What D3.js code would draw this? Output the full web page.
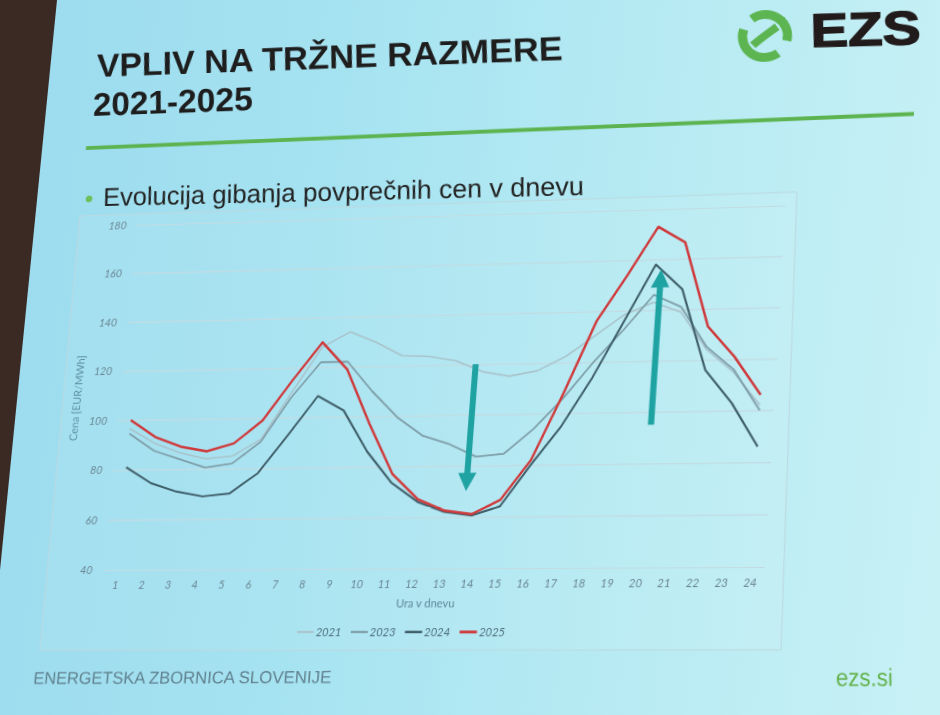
<!DOCTYPE html>
<html><head><meta charset="utf-8">
<script src="https://cdn.jsdelivr.net/npm/d3@7"></script>
<style>
html,body{margin:0;padding:0;width:940px;height:715px;overflow:hidden;}
body{background:linear-gradient(96deg,#9bdbee 0%,#a6e3f1 35%,#b6eaf3 65%,#c8f1f5 100%);}
#bg{position:absolute;left:0;top:0;}
#slide{position:absolute;left:0;top:0;transform-origin:0 0;overflow:visible;}
</style></head><body>
<svg id="bg" width="940" height="715"></svg>
<svg id="slide" width="940" height="715"></svg>
<script>
// ---------------- data ----------------
const hourLabels = [1,2,3,4,5,6,7,8,9,10,11,12,13,14,15,16,17,18,19,20,21,22,23,24];
const yTicks = [40,60,80,100,120,140,160,180];
const years = ["2021","2023","2024","2025"];
const s2021 = [96.5,90.5,86.5,84,85,91.5,110,128,134,129.5,124,123.5,121.5,117,115,117,122.5,130.5,138.5,143,139,124,115,102];
const s2023 = [94.5,87.5,84,80.5,82,90.5,108,122,122,110,99.5,92,88.5,83.5,84.5,94,106,120,132.5,146,141,125,116,100];
const s2024 = [81,74.5,71,69,70,78,93,108.5,102.5,86,73.5,66,62,60.5,64,80,95,114,136,158,148,116,103,86];
const s2025 = [100,93,89,87,90,99,115,130,119,97,77,67,62.5,61,66.5,82,108,136,154,173,166.5,133,121,106];
const seriesValues = [s2021, s2023, s2024, s2025];
// annotation arrows (hour position, start value, tip value)
const arrowHours = [13.73, 20.2];
const arrowFrom = [120, 95];
const arrowTo = [70, 156];

// ---------------- styles ----------------
const lineColors = {"2021":"#a9c3cb","2023":"#7f9fa9","2024":"#3e5e69","2025":"#cf3a3c"};
const lineWidths = {"2021":1.6,"2023":1.8,"2024":2,"2025":2.4};
const gridColor = "#c2dbe2";
const tickColor = "#6b8794";

// ---------------- perspective (photo of a slide) ----------------
const FL=120, FR=775, FT=216, FB=569;
const srcPts = [[FL,FT],[FR,FT],[FR,FB],[FL,FB]];
const dstPts = [[137,225],[786,205.5],[765,567],[103,570]];

function solve(A,b){
  const n=b.length; const M=A.map((r,i)=>r.concat([b[i]]));
  for(let c=0;c<n;c++){
    let p=c; for(let r=c+1;r<n;r++) if(Math.abs(M[r][c])>Math.abs(M[p][c])) p=r;
    [M[c],M[p]]=[M[p],M[c]];
    for(let r=0;r<n;r++){ if(r===c) continue; const f=M[r][c]/M[c][c]; for(let k=c;k<=n;k++) M[r][k]-=f*M[c][k]; }
  }
  return M.map((r,i)=>r[n]/r[i]);
}
function homography(src,dst){
  const A=[],b=[];
  for(let i=0;i<4;i++){
    const [x,yy]=src[i],[u,v]=dst[i];
    A.push([x,yy,1,0,0,0,-x*u,-yy*u]); b.push(u);
    A.push([0,0,0,x,yy,1,-x*v,-yy*v]); b.push(v);
  }
  const h=solve(A,b);
  return [[h[0],h[1],h[2]],[h[3],h[4],h[5]],[h[6],h[7],1]];
}
function inv3(m){
  const [a,b,c]=m[0],[d,e,f]=m[1],[g,h,i]=m[2];
  const A=e*i-f*h, B=-(d*i-f*g), C=d*h-e*g;
  const det=a*A+b*B+c*C;
  return [[A/det,-(b*i-c*h)/det,(b*f-c*e)/det],
          [B/det,(a*i-c*g)/det,-(a*f-c*d)/det],
          [C/det,-(a*h-b*g)/det,(a*e-b*d)/det]];
}
const H = homography(srcPts,dstPts);
const Hi = inv3(H);
function toFlat(px,py){
  const w=Hi[2][0]*px+Hi[2][1]*py+Hi[2][2];
  return [(Hi[0][0]*px+Hi[0][1]*py+Hi[0][2])/w,(Hi[1][0]*px+Hi[1][1]*py+Hi[1][2])/w];
}
const svg = d3.select("#slide");
svg.style("transform",`matrix3d(${H[0][0]},${H[1][0]},0,${H[2][0]},${H[0][1]},${H[1][1]},0,${H[2][1]},0,0,1,0,${H[0][2]},${H[1][2]},0,1)`);

// ---------------- background (room) ----------------
const bg = d3.select("#bg");
bg.append("polygon").attr("points","0,0 57,0 27,300 0,570").attr("fill","#3b2924");

// ---------------- helpers ----------------
function placeText(parent, txt, pl, pr, opts, skew){
  const a=toFlat(pl[0],pl[1]), b=toFlat(pr[0],pr[1]);
  const t=parent.append("text").attr("x",0).attr("y",0).text(txt)
    .attr("transform",`translate(${a[0]},${a[1]}) rotate(${Math.atan2(b[1]-a[1],b[0]-a[0])*180/Math.PI}) skewX(${skew||0})`)
    .attr("textLength",Math.hypot(b[0]-a[0],b[1]-a[1])).attr("lengthAdjust","spacingAndGlyphs");
  Object.entries(opts).forEach(([k,v])=>t.attr(k,v));
  return t;
}
const g = svg.append("g");

// ---------------- slide header ----------------
const titleFont = {"font-family":"'Liberation Sans',Arial,sans-serif","font-weight":"bold","font-size":35,"fill":"#1e1e1e"};
placeText(g,"VPLIV NA TRŽNE RAZMERE",[97,77],[563,60],titleFont,6);
placeText(g,"2021-2025",[93,116],[253,110],titleFont,6);
{
  const a=toFlat(86,148), b=toFlat(914,114);
  g.append("line").attr("x1",a[0]).attr("y1",a[1]).attr("x2",b[0]).attr("y2",b[1])
    .attr("stroke","#5cb34f").attr("stroke-width",4);
}
{
  const c=toFlat(89,199);
  g.append("circle").attr("cx",c[0]).attr("cy",c[1]).attr("r",3.5).attr("fill","#6cbf5a");
}
placeText(g,"Evolucija gibanja povprečnih cen v dnevu",[103,206],[584,195],
  {"font-family":"'Liberation Sans',Arial,sans-serif","font-size":27,"fill":"#222"},5);

// logo
{
  const c=toFlat(765,36), r=22;
  const lg=g.append("g").attr("transform",`translate(${c[0]},${c[1]}) skewX(4)`)
    .attr("fill","none").attr("stroke","#5db552").attr("stroke-width",9).attr("stroke-linecap","butt");
  const pt=(a)=>[r*Math.cos(a*Math.PI/180), r*Math.sin(a*Math.PI/180)];
  const arc=(a0,a1,sw)=>{const p0=pt(a0),p1=pt(a1);return `M${p0[0]},${p0[1]}A${r},${r} 0 0 ${sw} ${p1[0]},${p1[1]}`;};
  lg.append("path").attr("d",arc(235,15,1));
  lg.append("path").attr("d",arc(200,55,0));
  lg.append("path").attr("d",`M${-12},${9} C${-4},${2} ${2},${-2} ${12},${-9}`).attr("stroke-width",8);
  placeText(g,"EZS",[811,47],[921,44],{"font-family":"'Liberation Sans',Arial,sans-serif","font-weight":"bold",
    "font-size":48,"fill":"#221b1b","stroke":"#221b1b","stroke-width":1.5},5);
}

// footer
placeText(g,"ENERGETSKA ZBORNICA SLOVENIJE",[33,684],[331,683],
  {"font-family":"'Liberation Sans',Arial,sans-serif","font-size":17,"fill":"#5f7f8d"});
placeText(g,"ezs.si",[836,686],[893,686],
  {"font-family":"'Liberation Sans',Arial,sans-serif","font-size":23,"fill":"#63b14a"},3);

// ---------------- chart frame ----------------
{
  const pts=[[80,216],[797,192],[781,650],[40,650]].map(p=>toFlat(p[0],p[1]));
  g.append("polygon").attr("points",pts.map(p=>p.join(",")).join(" "))
    .attr("fill","rgba(255,255,255,0.06)").attr("stroke","#bcd8df").attr("stroke-width",1);
}

// ---------------- chart ----------------
const x = d3.scaleLinear().domain([0.5,24.5]).range([FL,FR]);
const y = d3.scaleLinear().domain([40,180]).range([FB,FT]);

const yAxis = g.append("g").attr("transform",`translate(${FL},0)`)
  .call(d3.axisLeft(y).tickValues(yTicks).tickSize(-(FR-FL)).tickPadding(11));
yAxis.select(".domain").remove();
yAxis.selectAll("line").attr("stroke",gridColor).attr("stroke-width",1.2);
yAxis.selectAll("text").attr("fill",tickColor).attr("font-family","Lato,sans-serif").attr("font-size",11).attr("font-style","italic");

const xAxis = g.append("g").attr("transform",`translate(0,${FB})`)
  .call(d3.axisBottom(x).tickValues(hourLabels).tickSize(0).tickPadding(11));
xAxis.select(".domain").remove();
xAxis.selectAll("text").attr("fill",tickColor).attr("font-family","Lato,sans-serif").attr("font-size",11).attr("font-style","italic");

// axis titles
{
  const p=toFlat(81,398);
  g.append("text").attr("transform",`translate(${p[0]},${p[1]}) rotate(-90)`).attr("text-anchor","middle")
    .attr("font-family","Lato,sans-serif").attr("font-size",11).attr("fill","#5a8ea2").text("Cena [EUR/MWh]");
  const q=toFlat(425,607);
  g.append("text").attr("x",q[0]).attr("y",q[1]).attr("text-anchor","middle")
    .attr("font-family","Lato,sans-serif").attr("font-size",11).attr("fill","#5d8797").text("Ura v dnevu");
}

// lines
const line = d3.line().x((d,i)=>x(hourLabels[i])).y(d=>y(d));
years.forEach((yr,k)=>{
  g.append("path").datum(seriesValues[k]).attr("d",line).attr("fill","none")
    .attr("stroke",lineColors[yr]).attr("stroke-width",lineWidths[yr]).attr("stroke-linejoin","round");
});

// arrows
arrowHours.forEach((h,i)=>{
  const xc=x(h), y0=y(arrowFrom[i]), y1=y(arrowTo[i]);
  const dir = y1>y0 ? 1 : -1, headL=18, headW=9, shaftW=3;
  const yb = y1 - dir*headL;
  g.append("polygon").attr("points",[
    [xc-shaftW,y0],[xc+shaftW,y0],[xc+shaftW,yb],[xc+headW,yb],[xc,y1],[xc-headW,yb],[xc-shaftW,yb]
  ].map(p=>p.join(",")).join(" ")).attr("fill","#1fa3a2");
});

// legend
{
  const st=toFlat(297,632);
  const lgd=g.append("g").attr("transform",`translate(${st[0]},${st[1]})`);
  years.forEach((yr,k)=>{
    const gx=k*53.8;
    lgd.append("line").attr("x1",gx).attr("x2",gx+17).attr("y1",0).attr("y2",0)
      .attr("stroke",lineColors[yr]).attr("stroke-width",lineWidths[yr]+0.4);
    lgd.append("text").attr("x",gx+19).attr("y",4).attr("font-family","Lato,sans-serif").attr("font-size",11)
      .attr("font-style","italic").attr("fill","#4f6f7d").text(yr);
  });
}
</script>
</body></html>
